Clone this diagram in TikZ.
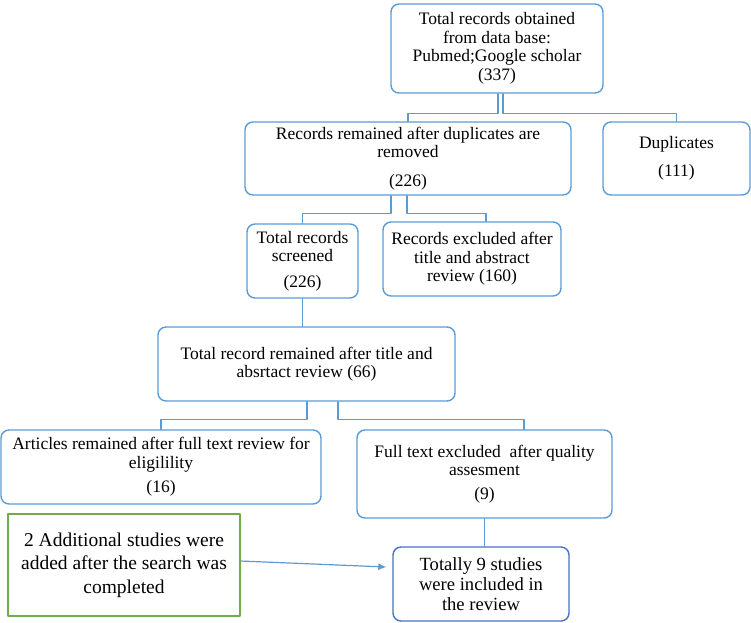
\documentclass[tikz,border=0pt]{standalone}
\usepackage{fontspec}
\setmainfont{Liberation Serif}
\usetikzlibrary{arrows.meta}
\definecolor{boxblue}{HTML}{5B9BD5}
\definecolor{boxdark}{HTML}{4472C4}
\definecolor{boxgreen}{HTML}{70AD47}
\begin{document}
\begin{tikzpicture}[x=1pt, y=-1pt, line join = round, line cap = round,
		box/.style={draw=boxblue, line width=1.4pt, rounded corners=8pt, align=center, inner sep=0pt,
			font=\fontsize{17.5}{18.5}\selectfont},
		link/.style={draw=boxblue, line width=1.2pt, rounded corners=0pt},
		arr/.style={draw=boxblue, line width=1.2pt, -{Latex[length=8pt,width=7pt]}}]
	\useasboundingbox (0,0) rectangle (751,622);
	% boxes
	\node[box, minimum width=212pt, minimum height=89pt] (db) at (497,48.5)
		{Total records obtained\\from data base:\\Pubmed;Google scholar\\(337)};
	\node[box, minimum width=326pt, minimum height=73pt] (rem) at (408,158.5)
		{Records remained after duplicates are\\removed\\[10pt](226)};
	\node[box, minimum width=147pt, minimum height=73pt] (dup) at (676.5,158.5)
		{Duplicates\\[9pt](111)};
	\node[box, minimum width=111pt, minimum height=74pt] (scr) at (302.5,261)
		{Total records\\screened\\[7pt](226)};
	\node[box, minimum width=178pt, minimum height=74pt] (exc) at (472,259)
		{Records excluded after\\title and abstract\\review (160)};
	\node[box, minimum width=297pt, minimum height=74pt] (tar) at (306.5,364)
		{Total record remained after title and\\absrtact review (66)};
	\node[box, minimum width=320pt, minimum height=74pt] (art) at (161,467)
		{Articles remained after full text review for\\eligilility\\[6pt](16)};
	\node[box, minimum width=255pt, minimum height=88pt] (ftx) at (484.5,474)
		{Full text excluded\ \ after quality\\assesment\\[5pt](9)};
	\node[box, draw=boxdark, minimum width=176pt, minimum height=74pt,
		font=\fontsize{18.6}{20}\selectfont] (tot) at (481,584)
		{Totally 9 studies\\were included in\\the review};
	\node[box, draw=boxgreen, rounded corners=0pt, minimum width=232pt, minimum height=102pt,
		font=\fontsize{19.5}{23.5}\selectfont] (add) at (124,565)
		{2 Additional studies were\\added after the search was\\completed};
	% connectors
	\draw[link] ([xshift=1pt]db.south) -- ++(0,20) -| (rem.north);
	\draw[link] ([xshift=6pt]db.south) -- ++(0,20) -| (dup.north);
	\draw[link] ([xshift=-17pt]rem.south) -- ++(0,18) -| (scr.north);
	\draw[link] ([xshift=-1pt]rem.south) -- ++(0,18) -| ([xshift=14pt]exc.north);
	\draw[link] (scr.south) -- (scr.south |- tar.north);
	\draw[link] ([xshift=0.5pt]tar.south) -- ++(0,18) -| (art.north);
	\draw[link] ([xshift=31.5pt]tar.south) -- ++(0,18) -| ([xshift=39.5pt]ftx.north);
	\draw[link] (ftx.south) -- (ftx.south |- tot.north);
	\draw[arr] ([yshift=4pt]add.east) -- ([xshift=-6pt,yshift=17pt]tot.west);
\end{tikzpicture}
\end{document}
